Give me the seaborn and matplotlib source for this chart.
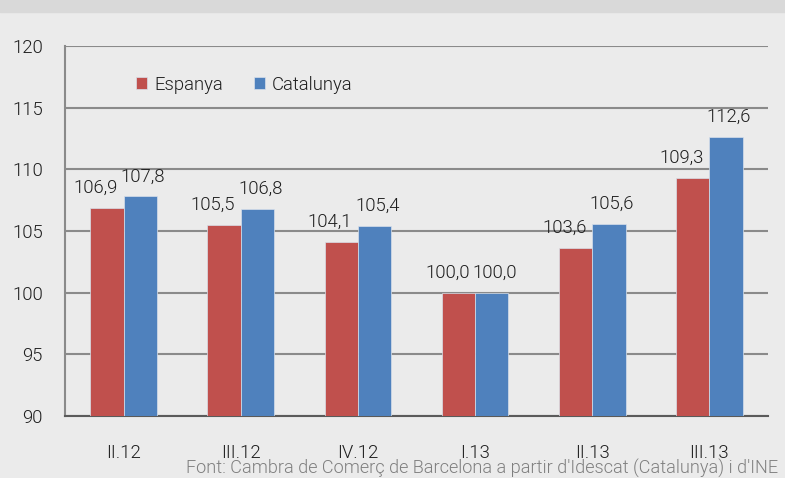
import matplotlib
matplotlib.use("Agg")
import matplotlib.pyplot as plt
import seaborn as sns
import pandas as pd

# Data
quarters = ["II.12", "III.12", "IV.12", "I.13", "II.13", "III.13"]
espanya = [106.9, 105.5, 104.1, 100.0, 103.6, 109.3]
catalunya = [107.8, 106.8, 105.4, 100.0, 105.6, 112.6]
series_names = ["Espanya", "Catalunya"]
y_ticks = [90, 95, 100, 105, 110, 115, 120]
source_note = "Font: Cambra de Comerç de Barcelona a partir d'Idescat (Catalunya) i d'INE"

df = pd.DataFrame({
    "quarter": quarters * 2,
    "serie": [series_names[0]] * len(quarters) + [series_names[1]] * len(quarters),
    "value": espanya + catalunya,
})

sns.set_theme(style="white")
plt.rcParams["font.family"] = ["Roboto", "DejaVu Sans"]
plt.rcParams["font.weight"] = 300

bg = "#ebebeb"
txt_color = "#1e1e1e"
fig = plt.figure(figsize=(7.85, 4.78), dpi=100, facecolor=bg)
# grey band at the top
fig.patches.append(plt.Rectangle((0, 1 - 12 / 478), 1, 12 / 478, transform=fig.transFigure,
                                 color="#d9d9d9", zorder=0))
ax = fig.add_axes([65 / 785, 1 - 416 / 478, 703 / 785, 370 / 478])
ax.set_facecolor(bg)

palette = {"Espanya": "#c0504d", "Catalunya": "#4f81bd"}
sns.barplot(data=df, x="quarter", y="value", hue="serie", palette=palette,
            width=0.57, order=quarters, hue_order=series_names, ax=ax,
            edgecolor="#d8e0ea", linewidth=0.5, saturation=1, zorder=3)

ax.set_ylim(90, 120)
ax.set_yticks(y_ticks)
ax.set_yticklabels([str(t) for t in y_ticks], fontsize=13.3, color=txt_color)
ax.tick_params(axis="y", length=0, pad=16)
ax.tick_params(axis="x", length=0, pad=20, labelsize=13.3, labelcolor=txt_color)
ax.set_xlabel("")
ax.set_ylabel("")
ax.grid(axis="y", color="#8a8a8a", linewidth=1.5, zorder=0)
ax.set_axisbelow(True)
for s in ["top", "right"]:
    ax.spines[s].set_visible(False)
ax.spines["left"].set_color("#8a8a8a")
ax.spines["left"].set_linewidth(1.5)
ax.spines["bottom"].set_color("#5a5a5a")
ax.spines["bottom"].set_linewidth(1.5)

# value labels: Espanya ones pushed a bit to the left so the pairs don't collide
offsets_pt = [-8, 2]
for cont, dx in zip(ax.containers, offsets_pt):
    texts = ax.bar_label(cont, labels=[f"{v:.1f}".replace(".", ",") for v in cont.datavalues],
                         padding=8, fontsize=13.3, color=txt_color)
    for t in texts:
        x0, y0 = t.xyann
        t.xyann = (x0 + dx, y0)

leg = ax.legend(loc="center left", bbox_to_anchor=(0.091, 0.895), ncol=2, frameon=False,
                fontsize=13.3, handlelength=0.6, handleheight=0.6, handletextpad=0.35,
                columnspacing=1.7, borderaxespad=0)
for txt in leg.get_texts():
    txt.set_color(txt_color)

fig.text(778 / 785, 1 - 474 / 478, source_note, ha="right", va="baseline",
         fontsize=13.1, color="#7f7f7f")

fig.savefig("out.png", dpi=100, facecolor=bg)
